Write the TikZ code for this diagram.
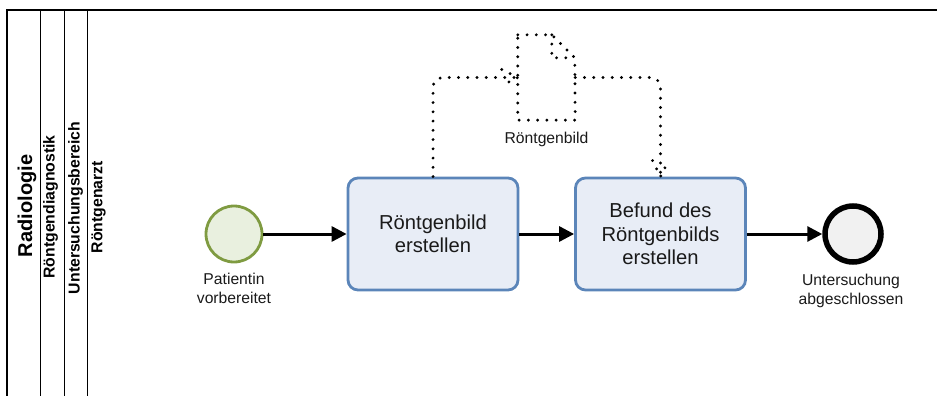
\documentclass[tikz,border=0pt]{standalone}
\usepackage{fontspec}
\setmainfont{Liberation Sans}
\usetikzlibrary{arrows.meta, positioning}

\definecolor{taskline}{HTML}{5B85B9}
\definecolor{taskfill}{HTML}{E8EDF6}
\definecolor{startline}{HTML}{7F9B41}
\definecolor{startfill}{HTML}{E9F0DF}
\definecolor{endfill}{HTML}{F1F1F1}
\definecolor{labeltext}{HTML}{1A1A1A}

\tikzset{
    task/.style={draw=taskline, fill=taskfill, line width=2.8pt, rounded corners=10pt,
        minimum width=170pt, minimum height=112pt, align=center, text=labeltext,
        font=\fontsize{20.2}{23.5}\selectfont},
    startevent/.style={circle, draw=startline, fill=startfill, line width=2.8pt, minimum size=56pt, inner sep=0pt},
    endevent/.style={circle, draw=black, fill=endfill, line width=5.5pt, minimum size=56pt, inner sep=0pt},
    evlabel/.style={align=center, text=labeltext, inner sep=0pt, font=\fontsize{15.7}{18.5}\selectfont},
    lane/.style={rotate=90, inner sep=0pt, font=\bfseries\fontsize{15.8}{18}\selectfont},
    flow/.style={-{Triangle[length=15pt, width=15pt]}, line width=3pt},
    assoc/.style={line width=3.2pt, line cap=round, dash pattern=on 0pt off 9.25pt},
}

\begin{document}
\begin{tikzpicture}[
    x=1pt, y=-1pt,
    node distance=100pt,
    on grid,
]

    \useasboundingbox (0,0) rectangle (937,396);

    % pool and lanes
    \draw[line width=2.4pt] (937,10) -- (7,10) -- (7,396);
    \draw[line width=0.9pt] (40,10) -- (40,396);
    \draw[line width=0.9pt] (64,10) -- (64,396);
    \draw[line width=0.9pt] (87,10) -- (87,396);

    \node[lane, font=\bfseries\fontsize{20}{23}\selectfont] (pool) at (27,206) {Radiologie};
    \node[lane] (diagnostik) at (50.5,207) {Röntgendiagnostik};
    \node[lane] (bereich)    at (75.5,208) {Untersuchungsbereich};
    \node[lane] (arzt)       at (98.5,207) {Röntgenarzt};

    % events and tasks
    \node[startevent]                    (start) at (234,234) {};
    \node[task, right=199pt of start]    (roentgen) {Röntgenbild\\erstellen};
    \node[task, right=227.5pt of roentgen] (befund) {Befund des\\Röntgenbilds\\erstellen};
    \node[endevent, right=192.5pt of befund] (stop) {};

    \node[evlabel, below=54.5pt of start] (startlabel) {Patientin\\vorbereitet};
    \node[evlabel, below=57pt of stop, xshift=-2pt] (stoplabel) {Untersuchung\\abgeschlossen};

    % data object
    \node[minimum width=57pt, minimum height=85pt, inner sep=0pt,
        above right=156.5pt and 113.5pt of roentgen] (bild) {};
    \node[evlabel, below=62pt of bild] (bildlabel) {Röntgenbild};
    \draw[assoc] (bild.north west) -- ++(34,0) -- ++(23,23) -- (bild.south east) -- (bild.south west) -- cycle;
    \draw[assoc] (bild.north west) ++(34,0) -- ++(0,23) -- ++(23,0);

    \path
        (start)    edge [flow] (roentgen)
        (roentgen) edge [flow] (befund)
        (befund)   edge [flow] (stop)
    ;

    \draw[assoc, rounded corners=10pt] (roentgen.north) |- (bild.west);
    \draw[assoc] (bild.west) ++(-16,-8) -- (bild.west) -- ++(-16,8);
    \draw[assoc, rounded corners=10pt] (bild.east) -| (befund.north);
    \draw[assoc] (befund.north) ++(-8,-16) -- (befund.north) -- ++(8,-16);

\end{tikzpicture}
\end{document}
